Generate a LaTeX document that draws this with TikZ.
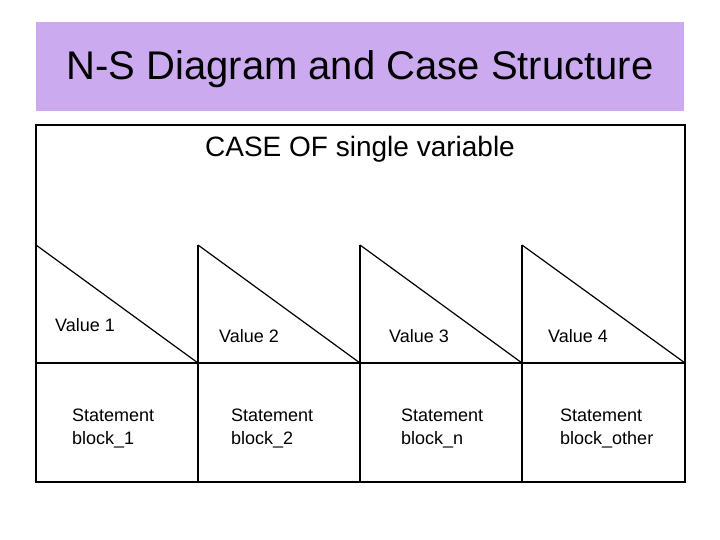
\documentclass[tikz,border=0pt]{standalone}
\usepackage{fontspec}
\setmainfont{Liberation Sans}
\definecolor{titlebg}{RGB}{204,170,240}
\begin{document}
\begin{tikzpicture}[x=1pt,y=-1pt,
  ln/.style={line width=1.2pt,black},
  val/.style={font=\fontsize{18}{21}\selectfont,anchor=west,inner sep=0},
  stm/.style={font=\fontsize{18}{23}\selectfont,anchor=west,align=left,inner sep=0}]
\useasboundingbox (0,0) rectangle (720,540);
\fill[titlebg] (36,22) rectangle (684,111);
\node (title) at (360,69) {\fontsize{40}{46}\selectfont N-S Diagram and Case Structure};
\draw[line width=2pt] (36,125) rectangle (685,482);
\node (case) at (360,149) {\fontsize{28}{32}\selectfont CASE OF single variable};
\draw[ln] (36,363) -- (685,363);
\foreach \x in {198,360,522} \draw[ln] (\x,245) -- (\x,482);
\foreach \a/\b in {36/198,198/360,360/522,522/685} \draw[ln] (\a,245) -- (\b,363);
\node[val] (v1) at (55,325) {Value 1};
\node[val] (v2) at (219,336) {Value 2};
\node[val] (v3) at (389,336) {Value 3};
\node[val] (v4) at (548,336) {Value 4};
\node[stm] (s1) at (72,429) {Statement\\block\_1};
\node[stm] (s2) at (231,429) {Statement\\block\_2};
\node[stm] (s3) at (401,429) {Statement\\block\_n};
\node[stm] (s4) at (560,429) {Statement\\block\_other};
\end{tikzpicture}
\end{document}
